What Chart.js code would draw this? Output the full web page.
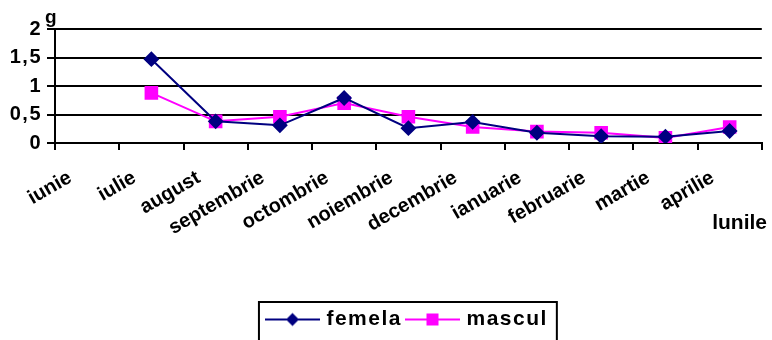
<!DOCTYPE html>
<html lang="ro">
<head>
    <meta charset="UTF-8">
    <title>Greutate pe luni</title>
    <style>
        body { margin: 0; background: #fff; }
        #wrap { width: 772px; height: 340px; }
    </style>
    <script src="https://cdn.jsdelivr.net/npm/chart.js"></script>
</head>
<body>
    <div id="wrap"><canvas id="chart" width="772" height="340"></canvas></div>
    <script>
        // lunile si valorile (g)
        const luni = ['iunie', 'iulie', 'august', 'septembrie', 'octombrie', 'noiembrie',
                      'decembrie', 'ianuarie', 'februarie', 'martie', 'aprilie'];
        const femela = [null, 1.47, 0.38, 0.31, 0.79, 0.26, 0.37, 0.18, 0.12, 0.11, 0.21];
        const mascul = [null, 0.88, 0.38, 0.46, 0.70, 0.46, 0.28, 0.20, 0.18, 0.09, 0.28];
        const yTicks = [0, 0.5, 1, 1.5, 2];

        const FONT = 'Liberation Sans, Arial, sans-serif';

        // mic simbol de legenda: linie cu marker la mijloc
        function legendIcon(color, shape) {
            const c = document.createElement('canvas');
            c.width = 55; c.height = 16;
            const g = c.getContext('2d');
            g.strokeStyle = color; g.lineWidth = 2;
            g.beginPath(); g.moveTo(0, 8); g.lineTo(55, 8); g.stroke();
            g.fillStyle = color;
            g.beginPath();
            if (shape === 'diamond') {
                g.moveTo(27.5, 1.5); g.lineTo(34, 8); g.lineTo(27.5, 14.5); g.lineTo(21, 8);
            } else {
                g.rect(21.5, 2, 12, 12);
            }
            g.fill();
            return c;
        }
        const icons = [legendIcon('#000080', 'diamond'), legendIcon('#FF00FF', 'square')];

        // litere rarite doar pentru unele texte
        function wrapSpacing(obj, name, sp) {
            const orig = obj[name];
            obj[name] = function (...args) {
                const ctx = this.ctx || this.chart.ctx;
                const old = ctx.letterSpacing;
                ctx.letterSpacing = sp;
                const res = orig.apply(this, args);
                ctx.letterSpacing = old;
                return res;
            };
        }

        const extras = {
            id: 'extras',
            beforeLayout(chart) {
                chart.ctx.letterSpacing = '0px';
                if (chart.legend && !chart.legend._wrapped) {
                    wrapSpacing(chart.legend, 'fit', '1.5px');
                    wrapSpacing(chart.legend, 'draw', '1.5px');
                    chart.legend._wrapped = true;
                }
                const y = chart.scales.y;
                if (y && !y._wrapped) {
                    wrapSpacing(y, 'drawLabels', '1.5px');
                    y._wrapped = true;
                }
            },
            afterDraw(chart) {
                const ctx = chart.ctx;
                const a = chart.chartArea;
                ctx.save();
                ctx.letterSpacing = '0px';
                ctx.fillStyle = '#000';
                ctx.font = 'bold 19px ' + FONT;
                ctx.textBaseline = 'alphabetic';
                ctx.textAlign = 'left';
                ctx.fillText('g', a.left - 10, a.top - 6);
                ctx.font = 'bold 21px ' + FONT;
                ctx.textAlign = 'right';
                ctx.fillText('lunile', chart.width - 5, a.bottom + 86);
                // chenar legenda
                const hb = chart.legend.legendHitBoxes;
                if (hb && hb.length) {
                    const l = hb[0].left - 10;
                    const r = hb[hb.length - 1].left + hb[hb.length - 1].width + 9;
                    const t = hb[0].top - 7;
                    ctx.lineWidth = 2;
                    ctx.strokeStyle = '#000';
                    ctx.strokeRect(l, t, r - l, chart.height - t + 5);
                }
                ctx.restore();
            }
        };

        new Chart(document.getElementById('chart'), {
            type: 'line',
            data: {
                labels: luni,
                datasets: [
                    {
                        label: 'femela', data: femela,
                        borderColor: '#000080', backgroundColor: '#000080',
                        borderWidth: 2, pointStyle: 'rectRot', pointRadius: 6.5,
                        pointHoverRadius: 6.5, tension: 0
                    },
                    {
                        label: 'mascul', data: mascul,
                        borderColor: '#FF00FF', backgroundColor: '#FF00FF',
                        borderWidth: 2, pointStyle: 'rect', pointRadius: 8.2,
                        pointHoverRadius: 8.2, tension: 0
                    }
                ]
            },
            options: {
                responsive: false,
                animation: false,
                layout: { padding: { top: 29, right: 9, left: 0, bottom: 0 } },
                scales: {
                    x: {
                        offset: true,
                        grid: { offset: true, drawOnChartArea: false, drawTicks: true, tickLength: 7, color: '#000', lineWidth: 2 },
                        border: { display: true, color: '#000', width: 2 },
                        ticks: {
                            color: '#000', minRotation: 30, maxRotation: 30, autoSkip: false,
                            font: { family: FONT, size: 20, weight: 'bold' }, padding: 16,
                            labelOffset: -17
                        },
                        afterFit(s) { s.height = 159; }
                    },
                    y: {
                        min: 0, max: 2,
                        afterBuildTicks(s) { s.ticks = yTicks.map(v => ({ value: v })); },
                        grid: { color: '#000', lineWidth: 2, tickLength: 8 },
                        border: { display: true, color: '#000', width: 2 },
                        ticks: {
                            color: '#000', padding: 5,
                            font: { family: FONT, size: 20, weight: 'bold' },
                            callback: v => String(v).replace('.', ',')
                        },
                        afterFit(s) { s.width = 55; }
                    }
                },
                plugins: {
                    legend: {
                        position: 'bottom',
                        fullSize: false, // centrata sub zona graficului
                        labels: {
                            color: '#000', usePointStyle: true, pointStyleWidth: 47, padding: 7,
                            font: { family: FONT, size: 21, weight: 'bold' },
                            generateLabels(chart) {
                                return chart.data.datasets.map((d, i) => ({
                                    text: d.label, pointStyle: icons[i], fontColor: '#000',
                                    hidden: false, datasetIndex: i, lineWidth: 0,
                                    strokeStyle: d.borderColor, fillStyle: d.backgroundColor
                                }));
                            }
                        }
                    },
                    tooltip: { enabled: false }
                }
            },
            plugins: [extras]
        });
    </script>
</body>
</html>
